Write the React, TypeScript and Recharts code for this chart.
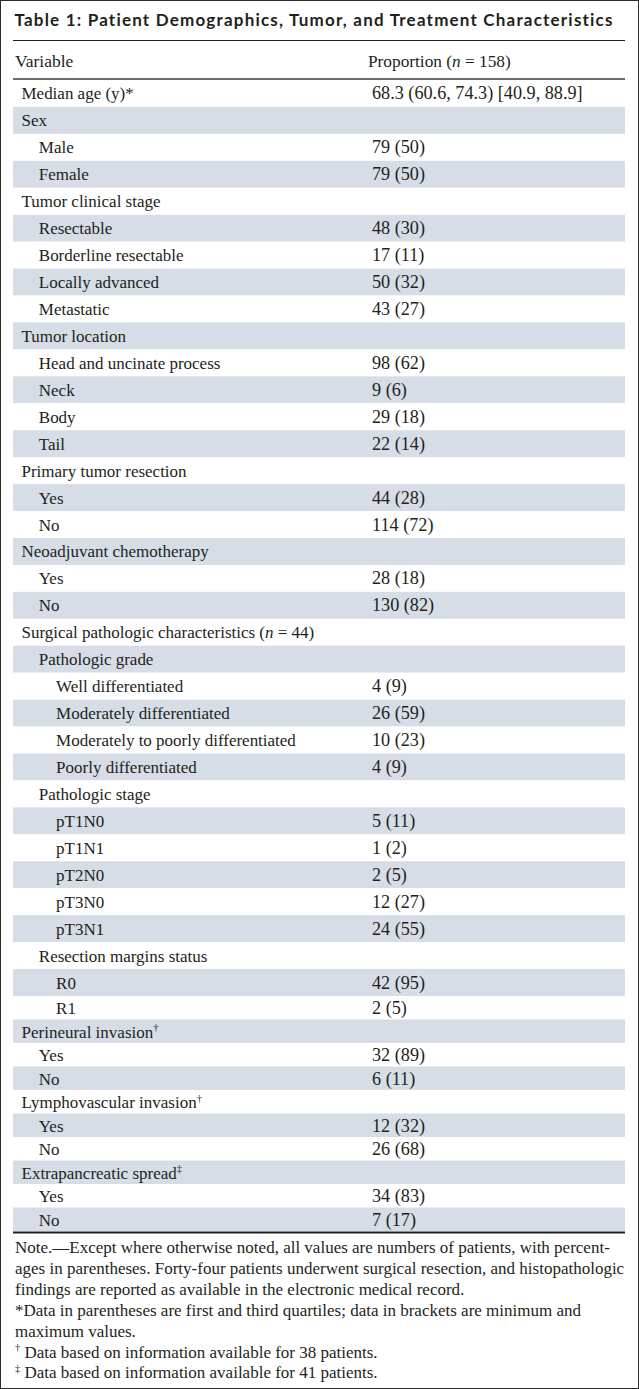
import { BarChart, Bar, XAxis, YAxis } from "recharts";

const title = "Table 1: Patient Demographics, Tumor, and Treatment Characteristics";
const headVariable = "Variable";
const headProportion = "Proportion (n = 158)";

const rowLabels = [
  "Median age (y)*",
  "Sex",
  "Male",
  "Female",
  "Tumor clinical stage",
  "Resectable",
  "Borderline resectable",
  "Locally advanced",
  "Metastatic",
  "Tumor location",
  "Head and uncinate process",
  "Neck",
  "Body",
  "Tail",
  "Primary tumor resection",
  "Yes",
  "No",
  "Neoadjuvant chemotherapy",
  "Yes",
  "No",
  "Surgical pathologic characteristics (n = 44)",
  "Pathologic grade",
  "Well differentiated",
  "Moderately differentiated",
  "Moderately to poorly differentiated",
  "Poorly differentiated",
  "Pathologic stage",
  "pT1N0",
  "pT1N1",
  "pT2N0",
  "pT3N0",
  "pT3N1",
  "Resection margins status",
  "R0",
  "R1",
  "Perineural invasion†",
  "Yes",
  "No",
  "Lymphovascular invasion†",
  "Yes",
  "No",
  "Extrapancreatic spread‡",
  "Yes",
  "No",
];

const rowValues = [
  "68.3 (60.6, 74.3) [40.9, 88.9]",
  "",
  "79 (50)",
  "79 (50)",
  "",
  "48 (30)",
  "17 (11)",
  "50 (32)",
  "43 (27)",
  "",
  "98 (62)",
  "9 (6)",
  "29 (18)",
  "22 (14)",
  "",
  "44 (28)",
  "114 (72)",
  "",
  "28 (18)",
  "130 (82)",
  "",
  "",
  "4 (9)",
  "26 (59)",
  "10 (23)",
  "4 (9)",
  "",
  "5 (11)",
  "1 (2)",
  "2 (5)",
  "12 (27)",
  "24 (55)",
  "",
  "42 (95)",
  "2 (5)",
  "",
  "32 (89)",
  "6 (11)",
  "",
  "12 (32)",
  "26 (68)",
  "",
  "34 (83)",
  "7 (17)",
];

// nesting depth of each row label
const rowLevels = [
  0, 0, 1, 1, 0, 1, 1, 1, 1, 0, 1, 1, 1, 1, 0, 1, 1, 0, 1, 1, 0, 1, 2, 2, 2, 2, 1, 2, 2, 2, 2, 2, 1, 2, 2, 0, 1, 1,
  0, 1, 1, 0, 1, 1,
];

const noteLines = [
  "Note.—Except where otherwise noted, all values are numbers of patients, with percent-",
  "ages in parentheses. Forty-four patients underwent surgical resection, and histopathologic",
  "findings are reported as available in the electronic medical record.",
  "*Data in parentheses are first and third quartiles; data in brackets are minimum and",
  "maximum values.",
  "† Data based on information available for 38 patients.",
  "‡ Data based on information available for 41 patients.",
];

const rows = rowLabels.map((label, i) => ({
  id: i,
  label,
  value: rowValues[i],
  level: rowLevels[i],
  band: 1,
}));

// the scan has taller rows above the R1 line than below it
const SPLIT = 34;
const upperRows = rows.slice(0, SPLIT);
const lowerRows = rows.slice(SPLIT);

const SERIF = "'Liberation Serif', 'Times New Roman', serif";
const INK = "#231f20";
const SHADE = "#d6dde7";
const LINE_L = 13;
const LINE_R = 625;
const LABEL_X = 21.5;
const INDENT = 17.3;
const VALUE_X = 372;
const BODY_TOP = 80;
const UPPER_H = 26.94;
const LOWER_H = 23.5;
const UPPER_TOTAL = UPPER_H * upperRows.length;
const LOWER_TOTAL = LOWER_H * lowerRows.length;
const BODY_BOTTOM = BODY_TOP + UPPER_TOTAL + LOWER_TOTAL;

// italic "n" and raised dagger marks
function rich(text: string, size: number) {
  const parts = text.split(/(\bn\b|[†‡])/).filter((p) => p !== "");
  const out: any[] = [];
  let raised = false;
  parts.forEach((p, i) => {
    const reset = raised ? size * 0.36 : undefined;
    raised = false;
    if (p === "n") {
      out.push(
        <tspan key={i} fontStyle="italic" dy={reset}>
          n
        </tspan>
      );
    } else if (p === "†" || p === "‡") {
      out.push(
        <tspan key={i} fontSize={size * 0.62} dy={(reset || 0) - size * 0.36}>
          {p}
        </tspan>
      );
      raised = true;
    } else {
      out.push(
        <tspan key={i} dy={reset}>
          {p}
        </tspan>
      );
    }
  });
  return out;
}

function RowShape(props: any) {
  const { x, y, width, height, payload } = props;
  const base = y + height / 2 + 6;
  return (
    <g>
      <rect x={x} y={y} width={width} height={height} fill={payload.id % 2 === 1 ? SHADE : "#ffffff"} />
      <text x={LABEL_X + payload.level * INDENT} y={base} fontFamily={SERIF} fontSize={17} fill={INK}>
        {rich(payload.label, 17)}
      </text>
      <text x={VALUE_X} y={base} fontFamily={SERIF} fontSize={18.2} fill={INK}>
        {payload.value}
      </text>
    </g>
  );
}

function RowBlock({ data, height, top }: { data: any[]; height: number; top: number }) {
  return (
    <div style={{ position: "absolute", left: -1, top: top - 1 }}>
      <BarChart
        width={639}
        height={height}
        layout="vertical"
        data={data}
        margin={{ top: 0, right: 639 - LINE_R, bottom: 0, left: LINE_L }}
        barCategoryGap={0}
      >
        <XAxis type="number" domain={[0, 1]} hide />
        <YAxis type="category" dataKey="id" hide />
        <Bar dataKey="band" isAnimationActive={false} shape={RowShape} />
      </BarChart>
    </div>
  );
}

export default function App() {
  return (
    <div
      style={{
        position: "absolute",
        left: 0,
        top: 0,
        width: 639,
        height: 1389,
        boxSizing: "border-box",
        border: "1px solid #2b2b2b",
        background: "#fff",
      }}
    >
      <svg width={639} height={BODY_TOP} style={{ position: "absolute", left: -1, top: -1 }}>
        <text
          x={14.5}
          y={26}
          fontFamily="Lato, 'DejaVu Sans', sans-serif"
          fontWeight={700}
          fontSize={17}
          letterSpacing={1.2}
          fill={INK}
        >
          {title}
        </text>
        <line x1={LINE_L} x2={LINE_R} y1={40.5} y2={40.5} stroke={INK} strokeWidth={1.2} />
        <text x={15} y={67} fontFamily={SERIF} fontSize={17.5} fill={INK}>
          {headVariable}
        </text>
        <text x={368} y={67} fontFamily={SERIF} fontSize={17.3} fill={INK}>
          {rich(headProportion, 17.3)}
        </text>
        <line x1={LINE_L} x2={LINE_R} y1={79} y2={79} stroke="#6e6e6e" strokeWidth={2} />
      </svg>
      <RowBlock data={upperRows} height={UPPER_TOTAL} top={BODY_TOP} />
      <RowBlock data={lowerRows} height={LOWER_TOTAL} top={BODY_TOP + UPPER_TOTAL} />
      <svg
        width={639}
        height={1389 - BODY_BOTTOM}
        style={{ position: "absolute", left: -1, top: BODY_BOTTOM - 1 }}
      >
        <line x1={LINE_L} x2={LINE_R} y1={1.5} y2={1.5} stroke={INK} strokeWidth={2} />
        {noteLines.map((line, i) => (
          <text key={i} x={15} y={22 + i * 20.9} fontFamily={SERIF} fontSize={17} fill={INK}>
            {rich(line, 17)}
          </text>
        ))}
      </svg>
    </div>
  );
}
